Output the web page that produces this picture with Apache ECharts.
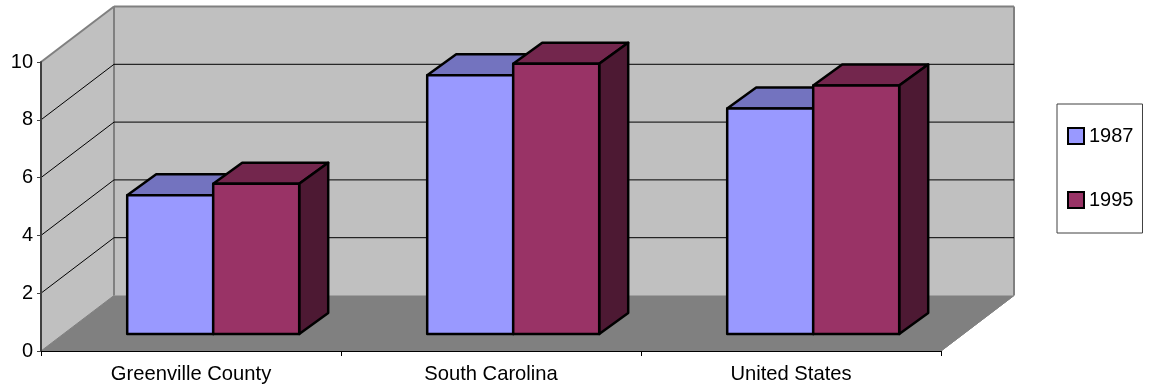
<!DOCTYPE html>
<html>
<head>
<meta charset="utf-8">
<style>html,body{margin:0;padding:0;background:#fff}#chart{width:1150px;height:387px}</style>
<script src="https://cdn.jsdelivr.net/npm/echarts@6/dist/echarts.min.js"></script>
</head>
<body>
<div id="chart"></div>
<script>
// Values per region, one list per survey year
const regions = ['Greenville County', 'South Carolina', 'United States'];
const years = ['1987', '1995'];
const values1987 = [4.8, 8.95, 7.8];
const values1995 = [5.2, 9.35, 8.6];
const yTicks = [0, 2, 4, 6, 8, 10];

// Oblique projection of the chart box and of the bars standing inside it
const boxDepth = [73, -55.5];
const barInset = [22.2, -17];
const barDepth = [29, -21];
const barWidthShare = 86 / 300;
const FONT = '"Liberation Sans", Arial, sans-serif';

function poly(points, fill, stroke, width) {
  return {
    type: 'polygon',
    shape: { points },
    style: { fill, stroke: stroke || null, lineWidth: width || 0, lineJoin: 'round' }
  };
}
function seg(p, q, color, width) {
  return {
    type: 'line',
    shape: { x1: p[0], y1: p[1], x2: q[0], y2: q[1] },
    style: { stroke: color, lineWidth: width }
  };
}

// Floor, side wall, back wall and the gridlines running across them
function renderBox(params, api) {
  const c = params.coordSys;
  const [dx, dy] = boxDepth;
  const l = c.x, r = c.x + c.width, t = c.y, b = c.y + c.height;
  const kids = [
    poly([[l, b], [r, b], [r + dx, b + dy], [l + dx, b + dy]], '#808080', '#808080', 1),
    poly([[l, b], [l + dx, b + dy], [l + dx, t + dy], [l, t]], '#C0C0C0', null, 0),
    poly([[l + dx, b + dy], [r + dx, b + dy], [r + dx, t + dy], [l + dx, t + dy]], '#C0C0C0', null, 0),
    seg([l, t], [l + dx, t + dy], '#808080', 2),
    seg([l + dx, t + dy], [r + dx, t + dy], '#808080', 2),
    seg([l + dx, t + dy], [l + dx, b + dy], '#808080', 2),
    seg([r + dx, t + dy], [r + dx, b + dy], '#808080', 2),
    seg([l + dx, b + dy], [l, b], '#808080', 1),
    seg([r + dx, b + dy], [r, b], '#808080', 1)
  ];
  yTicks.forEach(function (v) {
    if (v === 0 || v === 10) return;
    const y = api.coord([0, v])[1];
    kids.push(seg([l, y], [l + dx, y + dy], '#000', 1));
    kids.push(seg([l + dx, y + dy], [r + dx, y + dy], '#000', 1));
  });
  return { type: 'group', children: kids };
}

// One box-shaped bar; seriesPos is 0 for the left bar of a pair and 1 for the right
function barRenderer(seriesPos, front, top, side) {
  return function (params, api) {
    const band = api.size([1, 0])[0];
    const w = band * barWidthShare;
    const base = api.coord([api.value(0), 0]);
    const head = api.coord([api.value(0), api.value(1)]);
    const x0 = base[0] + barInset[0] - w + seriesPos * w;
    const x1 = x0 + w;
    const yb = base[1] + barInset[1];
    const yt = head[1] + barInset[1];
    const [ox, oy] = barDepth;
    return {
      type: 'group',
      children: [
        poly([[x0, yt], [x1, yt], [x1 + ox, yt + oy], [x0 + ox, yt + oy]], top, '#000', 2.5),
        poly([[x1, yb], [x1 + ox, yb + oy], [x1 + ox, yt + oy], [x1, yt]], side, '#000', 2.5),
        poly([[x0, yb], [x1, yb], [x1, yt], [x0, yt]], front, '#000', 2.5)
      ]
    };
  };
}

const chart = echarts.init(document.getElementById('chart'), null, { renderer: 'canvas' });
chart.setOption({
  animation: false,
  backgroundColor: '#fff',
  textStyle: { fontFamily: FONT },
  grid: { left: 41, top: 62, width: 900, height: 289, containLabel: false },
  xAxis: {
    type: 'category',
    data: regions,
    z: 3,
    axisLine: { lineStyle: { color: '#000', width: 1 } },
    axisTick: { show: true, length: 5, alignWithLabel: false, lineStyle: { color: '#000', width: 1 } },
    axisLabel: { color: '#000', fontSize: 20.2, fontFamily: FONT, margin: 13 },
    splitLine: { show: false }
  },
  yAxis: {
    type: 'value',
    min: 0,
    max: 10,
    interval: 2,
    z: 3,
    axisLine: { show: true, lineStyle: { color: '#404040', width: 2 } },
    axisTick: { show: true, length: 4, lineStyle: { color: '#404040', width: 1 } },
    axisLabel: { color: '#000', fontSize: 20, fontFamily: FONT, margin: 8 },
    splitLine: { show: false }
  },
  legend: {
    data: years,
    orient: 'vertical',
    left: 1057,
    top: 104,
    padding: [22, 9, 23, 10],
    itemWidth: 16,
    itemHeight: 16,
    itemGap: 44,
    icon: 'rect',
    backgroundColor: '#fff',
    borderColor: '#404040',
    borderWidth: 1,
    selectedMode: false,
    textStyle: { color: '#000', fontSize: 20, fontFamily: FONT },
    itemStyle: { borderColor: '#000', borderWidth: 2 }
  },
  series: [
    {
      name: 'box',
      type: 'custom',
      z: 0,
      silent: true,
      clip: false,
      data: [[0, 0]],
      renderItem: renderBox
    },
    {
      name: years[0],
      type: 'custom',
      z: 2,
      clip: false,
      itemStyle: { color: '#9999FF' },
      data: values1987.map((v, i) => [i, v]),
      encode: { x: 0, y: 1 },
      renderItem: barRenderer(0, '#9999FF', '#7373BF', '#4D4D80')
    },
    {
      name: years[1],
      type: 'custom',
      z: 2,
      clip: false,
      itemStyle: { color: '#993366' },
      data: values1995.map((v, i) => [i, v]),
      encode: { x: 0, y: 1 },
      renderItem: barRenderer(1, '#993366', '#73264D', '#4D1933')
    }
  ]
});
</script>
</body>
</html>
